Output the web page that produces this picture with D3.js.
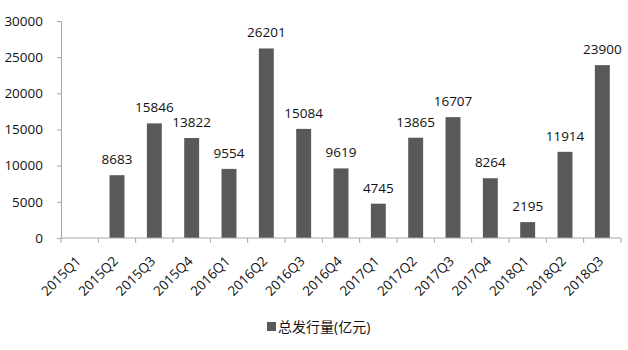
<!DOCTYPE html>
<meta charset="utf-8">
<body style="margin:0;background:#fff;">
<svg width="628" height="350"></svg>
<script src="https://cdn.jsdelivr.net/npm/d3@7"></script>
<script>
    // 季度与发行量(亿元)
    let quarters = ["2015Q1", "2015Q2", "2015Q3", "2015Q4", "2016Q1", "2016Q2", "2016Q3", "2016Q4",
        "2017Q1", "2017Q2", "2017Q3", "2017Q4", "2018Q1", "2018Q2", "2018Q3"];
    let issued = [null, 8683, 15846, 13822, 9554, 26201, 15084, 9619,
        4745, 13865, 16707, 8264, 2195, 11914, 23900];
    let yTicks = [0, 5000, 10000, 15000, 20000, 25000, 30000];
    let legendLabel = "总发行量(亿元)";

    let svg = d3.select("svg"),
        font = "'Open Sans', 'Noto Sans CJK SC', sans-serif",
        plotL = 61, plotR = 621, plotT = 21, plotB = 238;

    let x = d3.scaleBand().domain(quarters).range([plotL, plotR]).paddingInner(0.6).paddingOuter(0.3);
    let band = d3.scaleBand().domain(quarters).range([plotL, plotR]);
    let y = d3.scaleLinear().domain([0, 30000]).range([plotB, plotT]);

    // y 轴
    let yAxis = svg.append("g")
        .attr("transform", `translate(${plotL},0)`)
        .call(d3.axisLeft(y).tickValues(yTicks).tickFormat(d3.format("d")).tickSize(4).tickPadding(14));
    yAxis.selectAll("text").style("font", `13.5px ${font}`).attr("fill", "#111");
    yAxis.select(".domain").attr("stroke", "#a6a6a6");
    yAxis.selectAll(".tick line").attr("stroke", "#a6a6a6");

    // 柱子
    let data = quarters.map((q, i) => ({ q: q, v: issued[i] })).filter(d => d.v != null);
    svg.selectAll("rect.bar").data(data).enter().append("rect")
        .attr("x", d => x(d.q))
        .attr("width", x.bandwidth())
        .attr("y", d => y(d.v))
        .attr("height", d => plotB - y(d.v))
        .attr("fill", "#595959");

    svg.selectAll("text.val").data(data).enter().append("text")
        .attr("x", d => x(d.q) + x.bandwidth() / 2)
        .attr("y", d => y(d.v) - 11)
        .attr("text-anchor", "middle")
        .attr("fill", "#111")
        .style("font", `13.5px ${font}`)
        .text(d => d.v);

    // x 轴
    let xAxis = svg.append("g").attr("transform", `translate(0,${plotB})`);
    xAxis.append("line").attr("x1", plotL).attr("x2", plotR).attr("stroke", "#a6a6a6");
    xAxis.selectAll("line.tk").data(quarters.concat(["end"])).enter().append("line")
        .attr("x1", (d, i) => plotL + i * band.bandwidth())
        .attr("x2", (d, i) => plotL + i * band.bandwidth())
        .attr("y2", 5).attr("stroke", "#a6a6a6");
    xAxis.selectAll("text.lbl").data(quarters).enter().append("text")
        .attr("transform", d => `translate(${band(d) + band.bandwidth() / 2 + 2},24) rotate(-45)`)
        .attr("text-anchor", "end")
        .attr("fill", "#111")
        .style("font", `13.5px ${font}`)
        .text(d => d);

    // 图例
    let lg = svg.append("g").attr("transform", "translate(267,327)");
    lg.append("rect").attr("x", 0).attr("y", -5).attr("width", 9).attr("height", 9).attr("fill", "#595959");
    lg.append("text").attr("x", 11).attr("y", 5)
        .attr("fill", "#111")
        .style("font", `14px ${font}`)
        .text(legendLabel);
</script>
</body>
